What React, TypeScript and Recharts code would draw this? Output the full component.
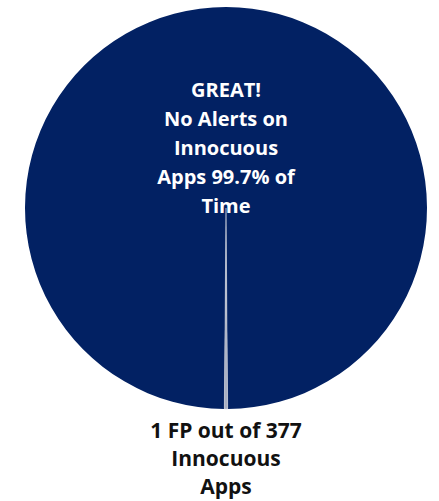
import { Cell, Pie, PieChart } from 'recharts'

const SLICE_NAMES = ['No alerts', 'False positive']
const SLICE_VALUES = [376, 1]
const SLICE_COLORS = ['#022163', '#A9AFC2']

const CENTER_LINES = ['GREAT!', 'No Alerts on', 'Innocuous', 'Apps 99.7% of', 'Time']
const FP_LINES = ['1 FP out of 377', 'Innocuous', 'Apps']

const data = SLICE_NAMES.map((name, i) => ({ name, value: SLICE_VALUES[i] }))
const total = SLICE_VALUES.reduce((a, b) => a + b, 0)
// centre the small slice straight down
const startAngle = -90 + (180 * SLICE_VALUES[1]) / total

const FONT = '"Open Sans", Lato, sans-serif'
const RAD = Math.PI / 180

function renderLabel(props: any) {
  const { cx, cy, midAngle, outerRadius, index } = props
  const inside = index === 0
  const r = inside ? outerRadius * 0.55 : outerRadius + 29
  const x = cx + r * Math.cos(-midAngle * RAD)
  const y = cy + r * Math.sin(-midAngle * RAD)
  const lines = inside ? CENTER_LINES : FP_LINES
  const lineH = inside ? 29 : 28
  return (
    <text
      key={`lbl-${index}`}
      x={x}
      y={y}
      textAnchor="middle"
      fill={inside ? '#ffffff' : '#111111'}
      fontFamily={FONT}
      fontWeight={700}
      fontSize={inside ? 20 : 21}
    >
      {lines.map((l, i) => (
        <tspan key={i} x={x} dy={i === 0 ? 0 : lineH}>
          {l}
        </tspan>
      ))}
    </text>
  )
}

export default function App() {
  return (
    <div style={{ position: 'absolute', left: 0, top: 0, background: '#fff' }}>
      <PieChart width={439} height={501} margin={{ top: 0, right: 0, bottom: 0, left: 0 }}>
        <Pie
          data={data}
          dataKey="value"
          nameKey="name"
          cx={226}
          cy={208}
          outerRadius={201}
          startAngle={startAngle}
          endAngle={startAngle + 360}
          stroke="none"
          label={renderLabel}
          labelLine={false}
          isAnimationActive={false}
        >
          {data.map((_, i) => (
            <Cell key={i} fill={SLICE_COLORS[i]} stroke={i === 1 ? '#D0D4DE' : 'none'} strokeWidth={0.5} />
          ))}
        </Pie>
      </PieChart>
    </div>
  )
}
